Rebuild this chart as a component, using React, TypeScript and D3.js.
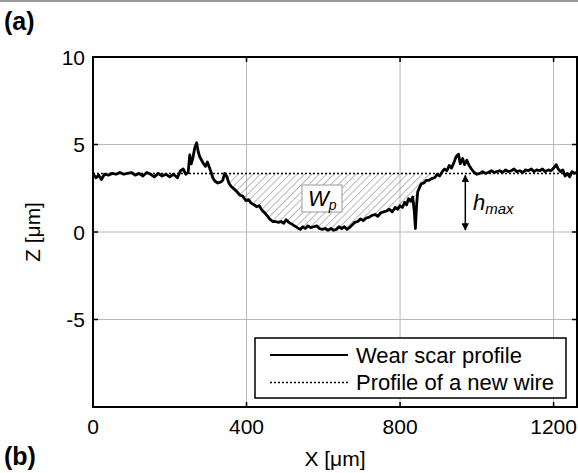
import React from "react";
import * as d3 from "d3";

const profileX = [0,8,15,22,30,40,50,60,70,80,90,100,110,120,130,140,150,160,170,180,190,200,210,220,228,235,242,248,252,256,260,265,270,274,278,283,288,293,298,303,308,312,318,325,332,338,343,348,354,360,368,375,383,390,398,405,412,420,426,433,440,447,453,460,468,475,483,490,497,503,510,518,525,532,540,547,553,560,567,575,583,590,597,605,612,620,627,634,641,648,655,662,668,675,682,690,697,704,712,720,727,735,742,750,757,765,772,780,787,794,800,806,812,817,822,828,833,837,840,843,846,850,855,862,868,875,882,890,897,903,910,916,922,928,934,940,946,952,957,963,968,974,980,986,993,1000,1008,1015,1022,1030,1038,1045,1052,1060,1067,1075,1082,1090,1097,1104,1112,1120,1127,1134,1142,1149,1156,1164,1171,1178,1186,1193,1200,1207,1212,1218,1224,1230,1236,1242,1248,1254,1260];
const profileZ = [3.3,3.1,3.25,3.0,3.3,3.25,3.35,3.3,3.4,3.3,3.35,3.4,3.25,3.35,3.2,3.4,3.3,3.15,3.35,3.2,3.3,3.15,3.3,3.1,3.5,3.6,3.3,3.4,4.4,3.9,4.2,4.8,5.1,4.6,4.3,4.1,3.9,3.75,4.0,3.7,3.4,3.1,2.9,2.8,2.85,2.95,3.35,3.2,2.8,2.6,2.45,2.3,2.1,2.05,1.8,1.85,1.65,1.55,1.45,1.5,1.25,1.1,0.95,0.75,0.6,0.6,0.55,0.6,0.5,0.7,0.55,0.45,0.35,0.25,0.15,0.3,0.2,0.35,0.25,0.3,0.35,0.2,0.15,0.2,0.1,0.2,0.1,0.15,0.3,0.2,0.3,0.15,0.25,0.4,0.55,0.6,0.75,0.65,0.8,0.85,0.95,1.0,0.9,1.1,1.15,1.2,1.3,1.15,1.4,1.3,1.5,1.4,1.7,1.55,1.9,1.75,2.0,1.2,0.2,1.5,2.3,2.5,2.75,2.8,2.95,2.95,3.05,3.1,3.3,3.2,3.45,3.6,3.5,3.8,3.65,3.95,4.3,4.45,3.9,4.2,3.85,4.1,3.8,3.6,3.4,3.3,3.35,3.45,3.35,3.4,3.5,3.4,3.45,3.5,3.4,3.55,3.45,3.5,3.6,3.45,3.5,3.4,3.55,3.5,3.6,3.45,3.55,3.5,3.6,3.45,3.55,3.5,3.65,3.85,3.6,3.45,3.55,3.2,3.35,3.15,3.45,3.35,3.4];
const newWireZ = 3.35;
const xTicks = [0, 400, 800, 1200];
const yTicks = [-5, 0, 5, 10];
const legendLabels = ["Wear scar profile", "Profile of a new wire"];

export default function App() {
  const W = 578, H = 473;
  const left = 93, right = 577, top = 57, bottom = 407;
  const x = d3.scaleLinear().domain([0, 1261]).range([left, right]);
  const y = d3.scaleLinear().domain([-10, 10]).range([bottom, top]);
  const pts = profileX.map((v, i) => [v, profileZ[i]] as [number, number]);
  const line = d3.line<[number, number]>().x(d => x(d[0])).y(d => y(d[1]));
  const hatchPts = pts.filter(d => d[0] >= 343 && d[0] <= 900);
  const area = d3.area<[number, number]>()
    .x(d => x(d[0]))
    .y0(y(newWireZ))
    .y1(d => y(Math.min(d[1], newWireZ)));
  const font = "Liberation Sans, Arial, sans-serif";
  const tick = 5;
  return (
    <svg width={W} height={H} style={{ position: "absolute", left: 0, top: 0, background: "#fff" }} fontFamily={font}>
      <defs>
        <pattern id="hatch" patternUnits="userSpaceOnUse" width={5.2} height={5.2} patternTransform="rotate(45)">
          <line x1={0} y1={0} x2={0} y2={5.2} stroke="#777" strokeWidth={1} />
        </pattern>
        <clipPath id="plotclip">
          <rect x={left} y={top} width={right - left} height={bottom - top} />
        </clipPath>
        <marker id="arr" viewBox="0 0 10 10" refX={9} refY={5} markerWidth={5} markerHeight={5} orient="auto-start-reverse">
          <path d="M0,0 L10,5 L0,10 z" fill="#000" />
        </marker>
      </defs>
      <rect x={0} y={0} width={W} height={H} fill="#fff" />
      <line x1={0} x2={W} y1={1} y2={1} stroke="#9a9a9a" strokeWidth={2} />
      <text x={4} y={30} fontSize={25} fontWeight="bold">(a)</text>
      <text x={4} y={465} fontSize={25} fontWeight="bold">(b)</text>
      {xTicks.filter(t => t > 0).map(t => (
        <line key={"gx" + t} x1={x(t)} x2={x(t)} y1={top} y2={bottom} stroke="#b8b8b8" strokeWidth={1} />
      ))}
      {yTicks.filter(t => t > -10 && t < 10).map(t => (
        <line key={"gy" + t} x1={left} x2={right} y1={y(t)} y2={y(t)} stroke="#b8b8b8" strokeWidth={1} />
      ))}
      <g clipPath="url(#plotclip)">
        <path d={area(hatchPts) || ""} fill="url(#hatch)" />
        <line x1={left} x2={right} y1={y(newWireZ)} y2={y(newWireZ)} stroke="#000" strokeWidth={1.5} strokeDasharray="2,2" />
        <path d={line(pts) || ""} fill="none" stroke="#000" strokeWidth={2.8} strokeLinejoin="round" />
      </g>
      <rect x={302} y={185} width={40} height={27} fill="#fff" stroke="#9a9a9a" strokeWidth={1} />
      <text x={308} y={206} fontSize={22} fontStyle="italic">W<tspan fontSize={14} dy={4}>p</tspan></text>
      <line x1={x(970)} x2={x(970)} y1={y(newWireZ) + 2} y2={y(0) - 2} stroke="#000" strokeWidth={1.5} markerStart="url(#arr)" markerEnd="url(#arr)" />
      <text x={473} y={210} fontSize={22} fontStyle="italic">h<tspan fontSize={15} dy={4}>max</tspan></text>
      <rect x={left} y={top} width={right - left} height={bottom - top} fill="none" stroke="#000" strokeWidth={2} />
      {xTicks.map(t => (
        <g key={"tx" + t}>
          <line x1={x(t)} x2={x(t)} y1={bottom} y2={bottom - tick} stroke="#000" strokeWidth={1.5} />
          <line x1={x(t)} x2={x(t)} y1={top} y2={top + tick} stroke="#000" strokeWidth={1.5} />
          <text x={x(t)} y={434} fontSize={21} textAnchor="middle">{t}</text>
        </g>
      ))}
      {yTicks.map(t => (
        <g key={"ty" + t}>
          <line x1={left} x2={left + tick} y1={y(t)} y2={y(t)} stroke="#000" strokeWidth={1.5} />
          <line x1={right} x2={right - tick} y1={y(t)} y2={y(t)} stroke="#000" strokeWidth={1.5} />
          <text x={85} y={y(t) + 7.5} fontSize={21} textAnchor="end">{t}</text>
        </g>
      ))}
      <text x={(left + right) / 2} y={466} fontSize={21} textAnchor="middle">X [μm]</text>
      <text transform={`translate(40,${(top + bottom) / 2}) rotate(-90)`} fontSize={21} textAnchor="middle">Z [μm]</text>
      <rect x={255} y={338} width={311} height={60} fill="#fff" stroke="#000" strokeWidth={1.5} />
      <line x1={270} x2={348} y1={355} y2={355} stroke="#000" strokeWidth={2} />
      <line x1={270} x2={348} y1={382.5} y2={382.5} stroke="#000" strokeWidth={1.5} strokeDasharray="2,2" />
      <text x={356} y={363} fontSize={22}>{legendLabels[0]}</text>
      <text x={356} y={390} fontSize={22}>{legendLabels[1]}</text>
    </svg>
  );
}
